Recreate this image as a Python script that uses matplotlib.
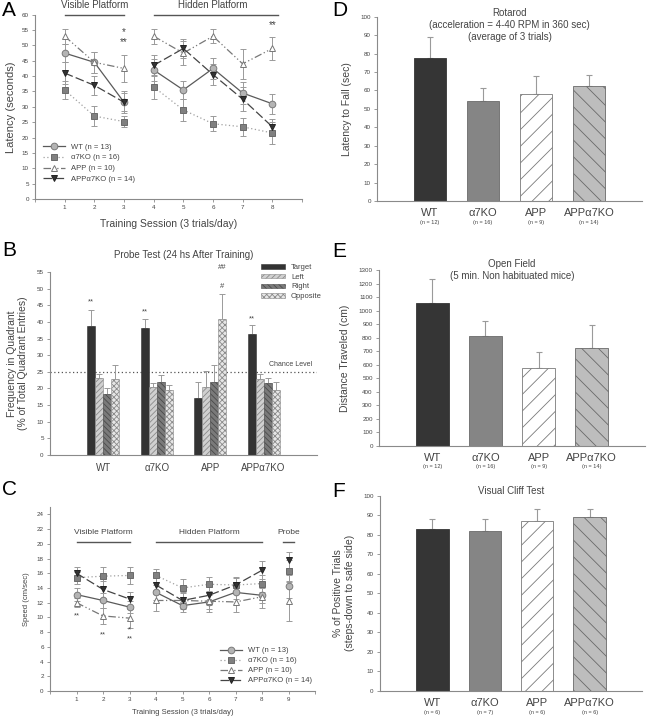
import matplotlib
matplotlib.use("Agg")
import matplotlib.pyplot as plt
import numpy as np

plt.rcParams['font.family'] = ['Liberation Sans', 'DejaVu Sans']
plt.rcParams['hatch.linewidth'] = 0.6

# ---------------- data ----------------
groups = ["WT", "α7KO", "APP", "APPα7KO"]
legend_A = ["WT (n = 13)", "α7KO (n = 16)", "APP (n = 10)", "APPα7KO (n = 14)"]

# Panel A: latency (s), sessions 1-8
sessA = [1, 2, 3, 4, 5, 6, 7, 8]
latA_WT = [47.5, 44.5, 31.5, 42.0, 35.5, 42.5, 34.5, 31.0]
latA_KO = [35.5, 27.0, 25.2, 36.5, 29.0, 24.5, 23.5, 21.5]
latA_APP = [53.0, 44.5, 42.5, 53.0, 47.5, 53.0, 44.0, 49.0]
latA_AK = [41.0, 37.0, 31.5, 43.5, 49.0, 40.5, 32.5, 23.5]
errA_WT = [3.0, 3.5, 3.0, 3.5, 3.0, 3.5, 3.5, 3.3]
errA_KO = [2.8, 3.2, 1.8, 3.8, 3.5, 2.5, 3.0, 3.5]
errA_APP = [2.5, 3.5, 4.5, 2.5, 4.0, 2.3, 4.8, 3.8]
errA_AK = [3.5, 3.2, 3.5, 3.5, 3.0, 3.5, 3.8, 2.5]

# Panel B: probe test, % quadrant entries
quadrants = ["Target", "Left", "Right", "Opposite"]
probe_target = [38.7, 38.3, 17.0, 36.4]
probe_left = [23.0, 20.5, 20.3, 22.7]
probe_right = [18.2, 22.0, 21.8, 21.6]
probe_opp = [22.7, 19.5, 41.0, 19.4]
probe_target_err = [5.0, 2.6, 5.0, 2.8]
probe_left_err = [1.2, 1.2, 5.0, 1.5]
probe_right_err = [1.8, 1.9, 5.3, 1.5]
probe_opp_err = [4.2, 1.4, 7.5, 2.4]
chance_level = 25

# Panel C: swim speed (cm/s), sessions 1-9
sessC = [1, 2, 3, 4, 5, 6, 7, 8, 9]
spdC_WT = [13.1, 12.3, 11.4, 13.4, 11.6, 12.1, 13.4, 13.0, 14.2]
spdC_KO = [15.4, 15.6, 15.7, 15.7, 14.0, 14.5, 14.4, 14.6, 16.3]
spdC_APP = [12.0, 10.2, 9.9, 12.3, 12.3, 12.2, 12.1, 12.8, 12.2]
spdC_AK = [16.0, 13.8, 12.5, 14.4, 12.3, 13.0, 14.4, 16.4, 17.8]
errC_WT = [0.9, 1.0, 0.8, 1.0, 0.9, 1.0, 0.9, 1.0, 1.5]
errC_KO = [0.8, 1.3, 1.2, 0.9, 1.2, 1.0, 1.0, 1.2, 1.5]
errC_APP = [0.6, 1.1, 1.3, 1.4, 1.2, 1.4, 1.3, 1.5, 2.7]
errC_AK = [0.8, 1.2, 1.0, 1.2, 1.0, 1.3, 1.1, 1.2, 1.1]

# Panel D: rotarod
rotarod = [77.5, 54.5, 58.0, 62.5]
rotarod_err = [11.5, 6.8, 10.0, 6.0]
rotarod_n = ["(n = 12)", "(n = 16)", "(n = 9)", "(n = 14)"]

# Panel E: open field
openfield = [1055, 815, 572, 720]
openfield_err = [175, 105, 120, 170]
openfield_n = ["(n = 12)", "(n = 16)", "(n = 9)", "(n = 14)"]

# Panel F: visual cliff
cliff = [83, 82, 87, 89]
cliff_err = [5, 6, 6, 4]
cliff_n = ["(n = 6)", "(n = 7)", "(n = 6)", "(n = 6)"]

# ---------------- style ----------------
AX = '#8a8a8a'
TXT = '#444444'
W, H = 658, 719
fig = plt.figure(figsize=(W / 100, H / 100), dpi=100)


def add_ax(l, r, t, b):
    return fig.add_axes([l / W, 1 - b / H, (r - l) / W, (b - t) / H])


def style(ax, fs=4.5):
    for s in ['top', 'right']:
        ax.spines[s].set_visible(False)
    for s in ['left', 'bottom']:
        ax.spines[s].set_color(AX)
        ax.spines[s].set_linewidth(0.8)
    ax.tick_params(colors=AX, labelcolor=TXT, labelsize=fs, length=2.5, width=0.6, pad=2)


series_style = [
    dict(marker='o', ls='-', color='#5a5a5a', mfc='#b4b4b4', mec='#7a7a7a', ms=4.8),
    dict(marker='s', ls=(0, (1, 2)), color='#a0a0a0', mfc='#808080', mec='#6a6a6a', ms=4.3),
    dict(marker='^', ls=(0, (6, 2, 1, 2, 1, 2)), color='#777777', mfc='white', mec='#777777', ms=5),
    dict(marker='v', ls=(0, (7, 2.5)), color='#444444', mfc='#333333', mec='#222222', ms=5),
]


def plot_series(ax, x, y, e, st, segments, label):
    x = np.asarray(x); y = np.asarray(y); e = np.asarray(e)
    ax.errorbar(x, y, yerr=e, fmt='none', ecolor='#9a9a9a', elinewidth=0.7, capsize=2, capthick=0.7, zorder=2)
    first = True
    for seg in segments:
        idx = [i for i, v in enumerate(x) if v in seg]
        ax.plot(x[idx], y[idx], ls=st['ls'], color=st['color'], lw=0.9, marker=st['marker'],
                mfc=st['mfc'], mec=st['mec'], ms=st['ms'], mew=0.7, zorder=3,
                label=label if first else None)
        first = False


# ---------------- Panel A ----------------
axA = add_ax(35, 302, 14.7, 199)
style(axA)
segsA = [(1, 2, 3), (4, 5, 6, 7, 8)]
for y, e, st, lab in zip([latA_WT, latA_KO, latA_APP, latA_AK],
                         [errA_WT, errA_KO, errA_APP, errA_AK], series_style, legend_A):
    plot_series(axA, sessA, y, e, st, segsA, lab)
axA.set_xlim(0, 9)
axA.set_ylim(0, 60)
axA.set_xticks(range(0, 10))
axA.set_xticklabels([''] + [str(i) for i in range(1, 9)] + [''])
axA.set_yticks(range(0, 61, 5))
axA.set_ylabel('Latency (seconds)', fontsize=8, color=TXT, labelpad=4)
axA.set_xlabel('Training Session (3 trials/day)', fontsize=7.5, color=TXT, labelpad=6)
axA.plot([1, 3], [60, 60], color='#555555', lw=1.0, clip_on=False)
axA.plot([4, 8.2], [60, 60], color='#555555', lw=1.0, clip_on=False)
axA.text(2, 61.5, 'Visible Platform', ha='center', va='bottom', fontsize=7, color=TXT)
axA.text(6, 61.5, 'Hidden Platform', ha='center', va='bottom', fontsize=7, color=TXT)
axA.text(3, 54.5, '*', ha='center', va='center', fontsize=7, color=TXT)
axA.text(3, 51.0, '**', ha='center', va='center', fontsize=7, color=TXT)
axA.text(8, 56.5, '**', ha='center', va='center', fontsize=7, color=TXT)
legA = axA.legend(loc='lower left', bbox_to_anchor=(0.02, 0.07), fontsize=5.5, frameon=False,
                  handlelength=2.8, labelspacing=0.45, borderaxespad=0)
for t in legA.get_texts():
    t.set_color(TXT)

# ---------------- Panel B ----------------
axB = add_ax(50, 317, 272, 455)
style(axB)
xg = np.arange(1, 5)
bw = 0.15
bar_specs = [
    (probe_target, probe_target_err, dict(color='#333333', edgecolor='#333333', hatch=None)),
    (probe_left, probe_left_err, dict(color='#d0d0d0', edgecolor='#8a8a8a', hatch='//////')),
    (probe_right, probe_right_err, dict(color='#7a7a7a', edgecolor='#4a4a4a', hatch='\\\\\\\\\\\\')),
    (probe_opp, probe_opp_err, dict(color='#e6e6e6', edgecolor='#8a8a8a', hatch='xxxxxx')),
]
for k, (vals, errs, kw) in enumerate(bar_specs):
    pos = xg + (k - 1.5) * bw
    axB.bar(pos, vals, width=bw, color=kw['color'], edgecolor=kw['edgecolor'], hatch=kw['hatch'],
            linewidth=0.4, label=quadrants[k], zorder=2)
    axB.errorbar(pos, vals, yerr=[np.zeros(4), errs], fmt='none', ecolor='#9a9a9a',
                 elinewidth=0.7, capsize=2, capthick=0.7, zorder=1)
axB.axhline(chance_level, color='#555555', ls=(0, (1, 2)), lw=0.9, zorder=0)
axB.text(4.9, chance_level + 1, 'Chance Level', ha='right', va='bottom', fontsize=5, color=TXT)
axB.set_xlim(0, 5)
axB.set_ylim(0, 55)
axB.set_yticks(range(0, 56, 5))
axB.set_xticks(xg)
axB.set_xticklabels(groups, fontsize=7, color=TXT)
axB.tick_params(axis='x', length=0, pad=6, labelsize=7)
axB.set_ylabel('Frequency in Quadrant\n(% of Total Quadrant Entries)', fontsize=7.5, color=TXT, labelpad=6)
axB.set_title('Probe Test (24 hs After Training)', fontsize=7, color=TXT, pad=10)
for x, y, s in [(1 - 1.5 * bw, 46, '**'), (2 - 1.5 * bw, 43, '**'), (4 - 1.5 * bw, 41, '**'),
                (3 + 1.5 * bw, 50.5, '#'), (3 + 1.5 * bw, 56.5, '##')]:
    axB.text(x, y, s, ha='center', va='center', fontsize=5.5, color=TXT, clip_on=False)
legB = axB.legend(loc='upper right', bbox_to_anchor=(1.03, 1.06), fontsize=5.5, frameon=False,
                  handlelength=3.2, handleheight=0.5, labelspacing=0.35, borderaxespad=0)
for t in legB.get_texts():
    t.set_color(TXT)

# ---------------- Panel C ----------------
axC = add_ax(50, 315, 507, 691)
style(axC)
segsC = [(1, 2, 3), (4, 5, 6, 7, 8), (9,)]
for y, e, st, lab in zip([spdC_WT, spdC_KO, spdC_APP, spdC_AK],
                         [errC_WT, errC_KO, errC_APP, errC_AK], series_style, legend_A):
    plot_series(axC, sessC, y, e, st, segsC, lab)
axC.set_xlim(0, 10)
axC.set_ylim(0, 25)
axC.set_xticks(range(0, 11))
axC.set_xticklabels([''] + [str(i) for i in range(1, 10)] + [''])
axC.set_yticks(range(0, 25, 2))
axC.set_ylabel('Speed (cm/sec)', fontsize=5.5, color=TXT, labelpad=5)
axC.set_xlabel('Training Session (3 trials/day)', fontsize=5.5, color=TXT, labelpad=5)
axC.plot([1, 3], [20.2, 20.2], color='#555555', lw=1.0)
axC.plot([4, 8], [20.2, 20.2], color='#555555', lw=1.0)
axC.plot([8.8, 9.2], [20.2, 20.2], color='#555555', lw=1.0)
axC.text(2, 21.6, 'Visible Platform', ha='center', va='center', fontsize=6, color=TXT)
axC.text(6, 21.6, 'Hidden Platform', ha='center', va='center', fontsize=6, color=TXT)
axC.text(9, 21.6, 'Probe', ha='center', va='center', fontsize=6, color=TXT)
for x, y, s in [(1, 10.2, '**'), (2, 7.6, '**'), (3, 8.3, '*'), (3, 7.1, '**')]:
    axC.text(x, y, s, ha='center', va='center', fontsize=5.5, color=TXT, zorder=5)
legC = axC.legend(loc='lower right', bbox_to_anchor=(1.0, 0.02), fontsize=5.5, frameon=False,
                  handlelength=2.8, labelspacing=0.35, borderaxespad=0)
for t in legC.get_texts():
    t.set_color(TXT)

# ---------------- Panels D/E/F ----------------
bar_fill = [dict(color='#353535', edgecolor='#353535', hatch=None),
            dict(color='#858585', edgecolor='#6a6a6a', hatch=None),
            dict(color='white', edgecolor='#7a7a7a', hatch='//'),
            dict(color='#bdbdbd', edgecolor='#6a6a6a', hatch='\\\\')]


def bar_panel(ax, vals, errs, ns, ylim, step, ylabel, title, ylfs=7.5, title_y=None):
    style(ax)
    xs = np.arange(1, 5)
    for i in range(4):
        kw = bar_fill[i]
        ax.bar(xs[i], vals[i], width=0.62, color=kw['color'], edgecolor=kw['edgecolor'],
               hatch=kw['hatch'], linewidth=0.6, zorder=2)
    ax.errorbar(xs, vals, yerr=[np.zeros(4), errs], fmt='none', ecolor='#9a9a9a',
                elinewidth=0.8, capsize=2.5, capthick=0.8, zorder=1)
    ax.set_xlim(0, 5)
    ax.set_ylim(0, ylim)
    ax.set_yticks(np.arange(0, ylim + 1, step))
    ax.set_xticks(xs)
    ax.set_xticklabels(groups, fontsize=8, color=TXT)
    ax.tick_params(axis='x', length=0, pad=5, labelsize=8)
    for i in range(4):
        ax.annotate(ns[i], xy=(xs[i], 0), xycoords=('data', 'axes fraction'),
                    xytext=(0, -13.5), textcoords='offset points', ha='center', va='top',
                    fontsize=4, color=TXT)
    ax.set_ylabel(ylabel, fontsize=ylfs, color=TXT, labelpad=6)
    ax.text(0.5, title_y, title, transform=ax.transAxes, ha='center', va='top',
            fontsize=7, color=TXT, linespacing=1.25)


axD = add_ax(377, 642, 16.7, 201)
bar_panel(axD, rotarod, rotarod_err, rotarod_n, 100, 10, 'Latency to Fall (sec)',
          'Rotarod\n(acceleration = 4-40 RPM in 360 sec)\n(average of 3 trials)', title_y=1.045)

axE = add_ax(379, 645, 270, 445.7)
bar_panel(axE, openfield, openfield_err, openfield_n, 1300, 100, 'Distance Traveled (cm)',
          'Open Field\n(5 min. Non habituated mice)', title_y=1.065)

axF = add_ax(380, 642, 495.7, 691)
bar_panel(axF, cliff, cliff_err, cliff_n, 100, 10, '% of Positive Trials\n(steps-down to safe side)',
          'Visual Cliff Test', ylfs=7.5, title_y=1.05)

# panel letters
for x, y, s in [(2, 1, 'A'), (2, 241, 'B'), (2, 480, 'C'), (332, 1, 'D'), (332, 242, 'E'), (332, 482, 'F')]:
    fig.text(x / W, 1 - y / H, s, ha='left', va='top', fontsize=15, color='black')

fig.savefig('out.png', dpi=100, facecolor='white')
